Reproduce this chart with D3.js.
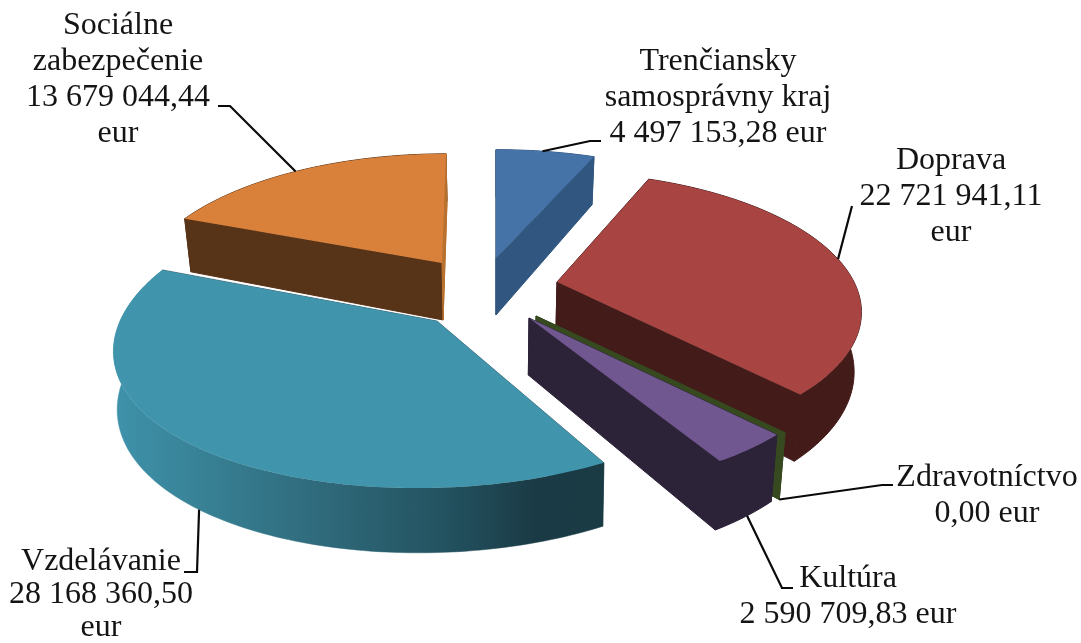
<!DOCTYPE html>
<html lang="sk">
<head>
<meta charset="utf-8">
<script src="https://cdnjs.cloudflare.com/ajax/libs/d3/7.8.5/d3.min.js"></script>
<style>
html,body{margin:0;padding:0;background:#fff;}
svg{display:block;filter:blur(0.35px);}
text{font-family:"Liberation Serif","Times New Roman",serif;fill:#141414;}
</style>
</head>
<body>
<svg id="chart" width="1081" height="643"></svg>
<script>
// ---- data ----
const categories = ["Trenčiansky samosprávny kraj","Doprava","Zdravotníctvo","Kultúra","Vzdelávanie","Sociálne zabezpečenie"];
const values = [4497153.28,22721941.11,0,2590709.83,28168360.50,13679044.44];
const nameLines = [["Trenčiansky","samosprávny kraj"],["Doprava"],["Zdravotníctvo"],["Kultúra"],["Vzdelávanie"],["Sociálne","zabezpečenie"]];
const unitOnOwnLine = [false,true,false,false,true,true];

// ---- style ----
const topColors = ["#4573a7","#a84543","#36491f","#70578f","#4095ad","#d9813b"];
const sideColors = ["#31567f","#431c1a","#36491f","#2d2339","#1a3a44","#573317"];
const endFaceColors = ["#31567f","#431c1a","#36491f","#2d2339","#1a3a44","#b9722f"];

// ---- layout: projected apex, radius and vertical radius of each exploded slice ----
const depth = 57;
const apexX = [496,557,536,529,437,442];
const apexY = [258,282,316,318,321,263];
const radX  = [302,297,302,302,317,298];
const radY  = [130,132,137,137,147,131];
const camX  = [496,527,496,496,548,466];
const perspX = [0.2,0.2,0.2,0.2,0.15,0.2];
const perspY = [0.2,0.2,0.2,0.2,0.12,0.2];
const shrink = [0.98,0.98,0.98,0.98,0.99,0.98];
const endFaceOnTop = [false,false,false,false,false,true];
const paintOrder = [0,5,1,2,3,4];
const labelCx = [718,951,987,848,101,118];
const labelBase = [70,169,486,587,570,34];
const lineStep = [36,36,35.5,36,33,36];
const fontSize = 32;
// leader: angular fraction inside slice where it touches, on bottom rim?, then elbows
const leaderFrac = [0.47,0.5,1,0.47,0.49,0.48];
const leaderBottom = [false,false,true,true,true,false];
const leaderElbows = [[[590,141],[601,141]],[[852,206]],[[882,485],[893,485]],[[782,588],[793,588]],[[197,572],[184,572]],[[230,106],[218,106]]];

const svg = d3.select("#chart");
const fmtLocale = d3.formatLocale({decimal:",",thousands:"\u00a0",grouping:[3],currency:["","eur"]});
const fmt = fmtLocale.format(",.2f");

const arcs = d3.pie().sort(null).value(d=>d).startAngle(0).endAngle(2*Math.PI)(values);

function proj(i,theta,r,bottom){
  const X=r*Math.sin(theta), Y=r*Math.cos(theta);
  const fx=1/(1+perspX[i]*Y), fy=1/(1+perspY[i]*Y);
  const ox=(apexX[i]-camX[i])/radX[i];
  let x=apexX[i]+radX[i]*((ox+X)*fx-ox);
  let y=apexY[i]-radY[i]*Y*fy;
  if(bottom){ x=496+(x-496)*shrink[i]; y+=depth*fy; }
  return [x,y];
}
function rim(i,a0,a1,bottom){
  const n=Math.max(2,Math.ceil(Math.abs(a1-a0)/0.02));
  return d3.range(n+1).map(k=>proj(i,a0+(a1-a0)*k/n,1,bottom));
}
const line=d3.line().curve(d3.curveLinear);
const poly=pts=>line(pts)+"Z";

// gradient for the large slice wall
const defs=svg.append("defs");
const grad=defs.append("linearGradient").attr("id","wall").attr("gradientUnits","userSpaceOnUse")
  .attr("x1",115).attr("x2",605).attr("y1",0).attr("y2",0);
[[0,"#3e92aa"],[0.2,"#377f93"],[0.42,"#2f6a7b"],[0.66,"#245462"],[0.86,"#1a3a45"],[1,"#1a3a44"]]
  .forEach(s=>grad.append("stop").attr("offset",s[0]).attr("stop-color",s[1]));

const g=svg.append("g");
paintOrder.forEach(i=>{
  const a=arcs[i], a0=a.startAngle, a1=a.endAngle, c=sideColors[i];
  const sg=g.append("g").attr("class","slice").attr("data-cat",categories[i]);
  const topApex=proj(i,0,0,false), botApex=proj(i,0,0,true);
  const wallFill=i===4?"url(#wall)":c;
  const sw=i===4?0.5:1;
  // radial faces
  const face=(t,col)=>{
    const o=proj(i,t,1,false), ob=proj(i,t,1,true);
    sg.append("path").attr("d",poly([topApex,o,ob,botApex])).attr("fill",col).attr("stroke",col).attr("stroke-width",sw);
  };
  face(a1,endFaceColors[i]);
  face(a0,c);
  // outer wall
  if(a1>a0){
    sg.append("path").attr("d",poly(rim(i,a0,a1,false).concat(rim(i,a1,a0,true)))).attr("fill",wallFill).attr("stroke",wallFill).attr("stroke-width",sw);
    if(endFaceOnTop[i]) face(a1,endFaceColors[i]);
    // top face
    sg.append("path").attr("d",poly([topApex].concat(rim(i,a0,a1,false)))).attr("fill",topColors[i]);
  }
});

// leader lines
arcs.forEach((a,i)=>{
  const t=a.startAngle+(a.endAngle-a.startAngle)*leaderFrac[i];
  const pts=[proj(i,t,1,leaderBottom[i])].concat(leaderElbows[i]);
  svg.append("path").attr("d",line(pts)).attr("fill","none").attr("stroke","#0a0a0a").attr("stroke-width",2.2);
});

// labels
arcs.forEach((a,i)=>{
  const val=fmt(values[i]);
  const lines=nameLines[i].concat(unitOnOwnLine[i]?[val,"eur"]:[val+" eur"]);
  lines.forEach((s,k)=>{
    svg.append("text").attr("x",labelCx[i]).attr("y",labelBase[i]+k*lineStep[i])
      .attr("text-anchor","middle").attr("font-size",fontSize).text(s);
  });
});
</script>
</body>
</html>
